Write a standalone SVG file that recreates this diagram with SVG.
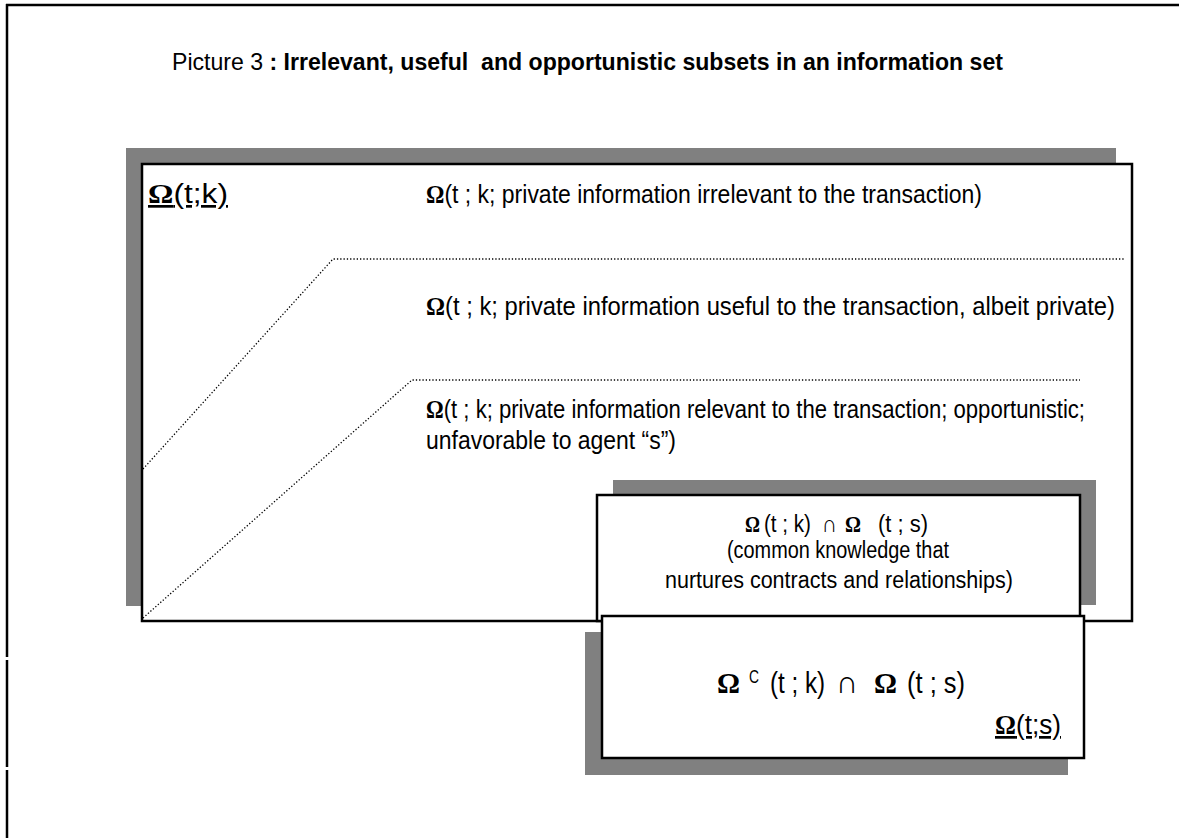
<svg xmlns="http://www.w3.org/2000/svg" width="1179" height="838" viewBox="0 0 1179 838">
<style>
text{font-family:"Liberation Sans",Arial,sans-serif;fill:#000;white-space:pre}
.o{font-family:"Liberation Serif","Times New Roman",serif;font-weight:bold}
.b{font-weight:bold}
.sh{fill:#808080}
.bx{fill:#fff;stroke:#000;stroke-width:2.5}
.dot{fill:none;stroke:#000;stroke-width:1.3;stroke-dasharray:1.3 2}
.t{font-size:25px}
.s{font-size:23px}
.l{font-size:30px}
.ln{stroke:#000;stroke-width:2.5}
</style>
<rect width="1179" height="838" fill="#fff"/>
<g id="frame">
<line class="ln" x1="6" y1="5" x2="1179" y2="5"/>
<line class="ln" x1="7" y1="4" x2="7" y2="657"/>
<line class="ln" x1="7" y1="660" x2="7" y2="767"/>
<line class="ln" x1="7" y1="770" x2="7" y2="838"/>
</g>
<text id="title" x="172" y="70" font-size="24" textLength="831" lengthAdjust="spacingAndGlyphs" xml:space="preserve">Picture 3 <tspan class="b">: Irrelevant, useful  and opportunistic subsets in an information set</tspan></text>
<g id="main">
<rect class="sh" x="126" y="148" width="990" height="458"/>
<rect class="bx" x="142" y="164" width="990" height="457"/>
<text x="148" y="203" font-size="27" textLength="80" lengthAdjust="spacingAndGlyphs" text-decoration="underline"><tspan class="o">Ω</tspan>(t;k)</text>
</g>
<g id="connectors">
<path class="dot" d="M143,469 L333,259 L1125,259"/>
<path class="dot" d="M143,618 L412,380 L1080,380"/>
</g>
<g id="irrelevant">
<text class="t" x="426" y="203" textLength="556" lengthAdjust="spacingAndGlyphs" xml:space="preserve"><tspan class="o">Ω</tspan>(t ; k; private information irrelevant to the transaction)</text>
</g>
<g id="useful">
<text class="t" x="426" y="315" textLength="689" lengthAdjust="spacingAndGlyphs" xml:space="preserve"><tspan class="o">Ω</tspan>(t ; k; private information useful to the transaction, albeit private)</text>
</g>
<g id="opportunistic">
<text class="t" x="426" y="418" textLength="659" lengthAdjust="spacingAndGlyphs" xml:space="preserve"><tspan class="o">Ω</tspan>(t ; k; private information relevant to the transaction; opportunistic;</text>
<text class="t" x="426" y="449" textLength="250" lengthAdjust="spacingAndGlyphs" xml:space="preserve">unfavorable to agent “s”)</text>
</g>
<g id="common">
<rect class="sh" x="613" y="480" width="483" height="125"/>
<rect class="bx" x="597" y="495" width="483" height="126"/>
<text class="s o" x="745" y="532" textLength="15" lengthAdjust="spacingAndGlyphs">Ω</text>
<text class="s" x="764" y="532" textLength="47" lengthAdjust="spacingAndGlyphs" xml:space="preserve">(t ; k)</text>
<text x="822" y="532" font-size="24" font-family="DejaVu Sans" textLength="15" lengthAdjust="spacingAndGlyphs">∩</text>
<text class="s o" x="845" y="532" textLength="16" lengthAdjust="spacingAndGlyphs">Ω</text>
<text class="s" x="878" y="532" textLength="50" lengthAdjust="spacingAndGlyphs" xml:space="preserve">(t ; s)</text>
<text class="s" x="727" y="558" textLength="222" lengthAdjust="spacingAndGlyphs">(common knowledge that</text>
<text class="s" x="665" y="588" textLength="348" lengthAdjust="spacingAndGlyphs">nurtures contracts and relationships)</text>
</g>
<g id="complement">
<rect class="sh" x="585" y="632" width="483" height="143"/>
<rect class="bx" x="602" y="616" width="482" height="142"/>
<text class="l o" x="717" y="693" textLength="23" lengthAdjust="spacingAndGlyphs">Ω</text>
<text x="749" y="683" font-size="19" textLength="10" lengthAdjust="spacingAndGlyphs">C</text>
<text class="l" x="770" y="693" textLength="55" lengthAdjust="spacingAndGlyphs" xml:space="preserve">(t ; k)</text>
<text x="836" y="693" font-size="32" font-family="DejaVu Sans" textLength="22" lengthAdjust="spacingAndGlyphs">∩</text>
<text class="l o" x="874" y="693" textLength="23" lengthAdjust="spacingAndGlyphs">Ω</text>
<text class="l" x="907" y="693" textLength="58" lengthAdjust="spacingAndGlyphs" xml:space="preserve">(t ; s)</text>
<text x="995" y="734" font-size="27" textLength="66" lengthAdjust="spacingAndGlyphs" text-decoration="underline"><tspan class="o">Ω</tspan>(t;s)</text>
</g>
</svg>
